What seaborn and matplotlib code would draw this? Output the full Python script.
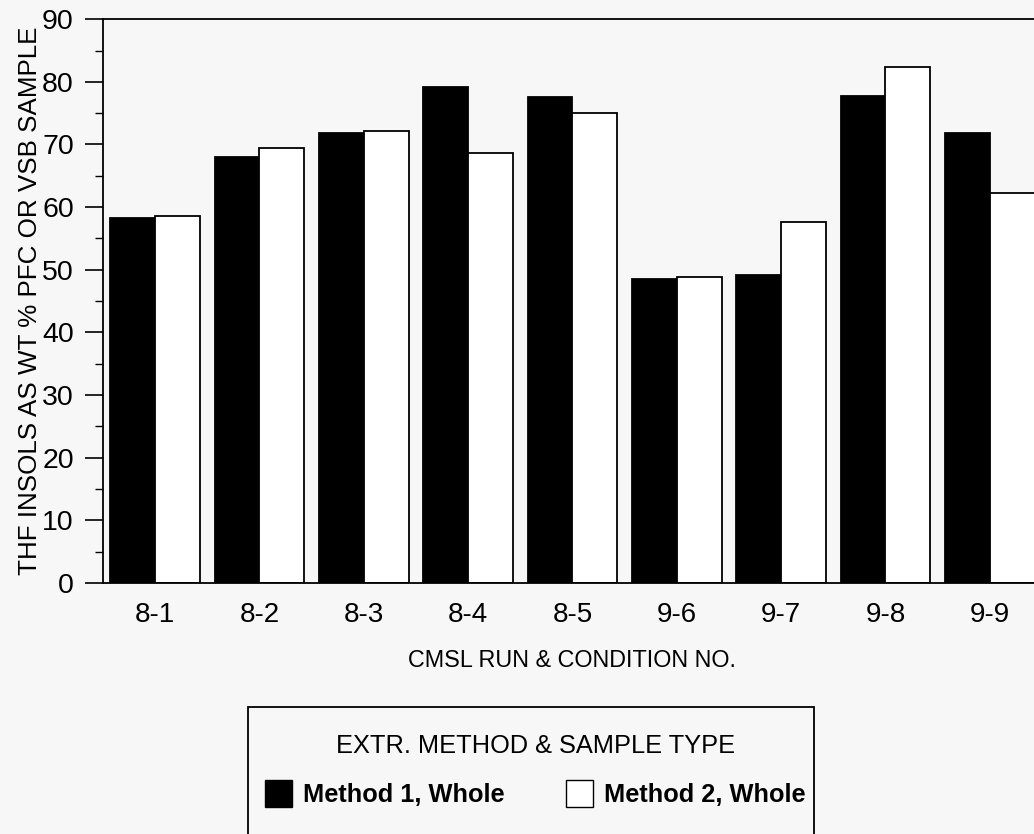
import pandas as pd
import matplotlib
matplotlib.use("Agg")
import matplotlib.pyplot as plt
import seaborn as sns
from matplotlib.patches import Patch, Rectangle

# values
runs = ["8-1", "8-2", "8-3", "8-4", "8-5", "9-6", "9-7", "9-8", "9-9"]
method1_whole = [58.2, 68.0, 71.8, 79.1, 77.5, 48.6, 49.1, 77.7, 71.8]
method2_whole = [58.6, 69.5, 72.1, 68.7, 75.1, 48.8, 57.7, 82.3, 62.2]
series_names = ["Method 1, Whole", "Method 2, Whole"]

df = pd.DataFrame({
    "run": runs * 2,
    "value": method1_whole + method2_whole,
    "method": [series_names[0]] * len(runs) + [series_names[1]] * len(runs),
})

sns.set_style("white")
plt.rcParams["font.family"] = ["Liberation Sans", "DejaVu Sans"]
plt.rcParams.update({"text.color": "black", "axes.labelcolor": "black",
                     "xtick.color": "black", "ytick.color": "black"})
bg = "#f7f7f7"

fig = plt.figure(figsize=(10.34, 8.34), dpi=100, facecolor=bg)
ax = fig.add_axes([0.0996, 0.301, 0.908, 0.676])
ax.set_facecolor(bg)

sns.barplot(data=df, x="run", y="value", hue="method", order=runs,
            hue_order=series_names, palette=["black", "white"],
            edgecolor="black", linewidth=1.3, width=0.86, gap=0,
            saturation=1, legend=False, ax=ax)

ax.set_xlim(-0.5, 8.5)
ax.set_ylim(0, 90)
ax.set_yticks(range(0, 91, 10))
ax.set_yticks(range(5, 90, 10), minor=True)
ax.tick_params(axis="y", which="major", direction="out", length=13, width=1.2,
               labelsize=20.5, pad=8, left=True)
ax.tick_params(axis="y", which="minor", direction="out", length=6, width=1.0,
               left=True)
ax.tick_params(axis="x", length=0, labelsize=20, pad=14)

for side in ["left", "top", "bottom", "right"]:
    ax.spines[side].set_color("black")
    ax.spines[side].set_linewidth(1.3)

ax.set_ylabel("THF INSOLS AS WT % PFC OR VSB SAMPLE", fontsize=18.7, labelpad=0)
ax.set_xlabel("CMSL RUN & CONDITION NO.", fontsize=16.8, labelpad=15)

# legend: entries without frame, square box drawn around it (bottom runs off the page)
handles = [Patch(facecolor="black", edgecolor="black", linewidth=1.0),
           Patch(facecolor="white", edgecolor="black", linewidth=1.0)]
leg = fig.legend(handles, series_names, title="EXTR. METHOD & SAMPLE TYPE",
                 loc="upper left", bbox_to_anchor=(0.2563, 0.1200),
                 ncol=2, frameon=False,
                 prop={"size": 18.3, "weight": "bold"},
                 title_fontsize=18.3, handlelength=1.06, handleheight=1.22,
                 handletextpad=0.45, borderpad=0, labelspacing=0.5,
                 columnspacing=2.4, borderaxespad=0)
leg._legend_box.sep = 16
fig.add_artist(Rectangle((0.2398, -0.02), 0.5474, 0.1723,
                         transform=fig.transFigure, facecolor="none",
                         edgecolor="black", linewidth=1.3, clip_on=False))

fig.savefig("out.png", dpi=100, facecolor=bg)
